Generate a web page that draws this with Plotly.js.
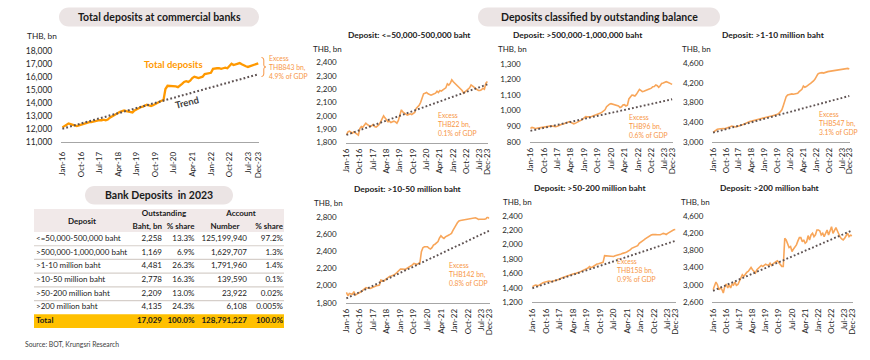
<!DOCTYPE html>
<html>
<head>
<meta charset="utf-8">
<script src="https://cdn.plot.ly/plotly-3.0.1.min.js"></script>
<style>
html,body{margin:0;padding:0;background:#ffffff;overflow:hidden;}
#chart{width:870px;height:360px;}
</style>
</head>
<body>
<div id="chart"></div>
<script>
// ================= DATA =================
const months = [];
for (let yr = 2016; yr <= 2023; yr++) {
  for (let m = 1; m <= 12; m++) months.push(yr + '-' + String(m).padStart(2, '0') + '-01');
}
const tickDates = ['2016-01-01','2016-10-01','2017-07-01','2018-04-01','2019-01-01','2019-10-01',
                   '2020-07-01','2021-04-01','2022-01-01','2022-10-01','2023-07-01','2023-12-01'];
const tickLabels = ['Jan-16','Oct-16','Jul-17','Apr-18','Jan-19','Oct-19',
                    'Jul-20','Apr-21','Jan-22','Oct-22','Jul-23','Dec-23'];

// Total deposits at commercial banks (THB bn), monthly Jan-16 .. Dec-23
const totalDeposits = [
  12100,12200,12300,12400,12350,12300,12250,12200,12250,12300,12400,12450,
  12450,12500,12500,12550,12600,12600,12650,12650,12700,12650,12700,12850,
  12950,13050,13150,13250,13300,13350,13400,13350,13300,13300,13250,13400,
  13500,13550,13650,13700,13750,13850,13800,13750,13800,13900,14000,14100,
  14150,14200,15050,15300,15300,15250,15300,15250,15200,15300,15450,15600,
  15650,15600,15700,15900,16000,15950,15900,15950,16000,16200,16250,16250,
  16300,16600,16650,16650,16650,16600,16650,16700,16650,16850,17000,16900,
  16950,17000,17050,16950,16850,16800,16750,16800,16900,16950,17000,17029
];
const trendTotal = [12000, 16186];

const depLe500k = [
  1857,1880,1885,1875,1870,1880,1870,1862,1855,1905,1920,1915,
  1930,1945,1935,1925,1920,1925,1935,1920,1915,1925,1935,1955,
  1975,2000,1985,1965,1955,1960,1950,1955,1960,1955,1945,1965,
  2015,2045,2030,2020,2010,2005,2010,2015,2010,2015,2025,2055,
  2065,2080,2100,2130,2165,2170,2175,2165,2160,2155,2160,2165,
  2170,2185,2175,2190,2185,2195,2205,2210,2240,2230,2245,2270,
  2255,2245,2230,2220,2215,2207,2190,2170,2180,2190,2195,2210,
  2232,2225,2215,2205,2195,2190,2190,2195,2207,2200,2245,2258
];
const trendLe500k = [1857, 2236];

const dep500kTo1m = [
  885,892,890,885,886,888,890,888,890,892,895,897,
  898,900,902,900,898,897,899,905,910,912,914,916,
  922,925,929,925,918,915,918,922,928,935,939,945,
  955,961,960,958,960,962,965,970,972,975,978,985,
  990,995,1005,1025,1035,1042,1045,1042,1042,1040,1036,1030,
  1020,1025,1036,1038,1030,1035,1075,1090,1100,1098,1094,1105,
  1125,1137,1130,1122,1125,1128,1130,1137,1140,1145,1154,1155,
  1165,1160,1150,1160,1175,1178,1180,1186,1182,1178,1172,1169
];
const trend500kTo1m = [870, 1073];

const dep1to10m = [
  3190,3215,3240,3252,3260,3265,3272,3268,3262,3270,3275,3290,
  3305,3320,3315,3306,3300,3310,3325,3335,3340,3350,3365,3380,
  3395,3408,3415,3420,3430,3442,3450,3455,3460,3470,3476,3485,
  3495,3505,3510,3515,3520,3525,3530,3540,3545,3560,3580,3613,
  3650,3740,3851,3920,3953,3965,3973,3975,3970,3975,3980,3990,
  4021,4040,4068,4137,4110,4125,4157,4170,4190,4210,4240,4272,
  4330,4380,4395,4405,4409,4400,4415,4420,4430,4435,4440,4450,
  4445,4450,4455,4460,4470,4477,4470,4475,4478,4485,4495,4481
];
const trend1to10m = [3185, 3934];

const dep10to50m = [
  1920,1881,1908,1900,1897,1928,1889,1900,1908,1915,1930,1947,
  1960,1974,1970,1965,1967,1975,1985,1990,1998,2000,2005,2063,
  2058,2052,2070,2085,2102,2108,2110,2114,2125,2140,2160,2175,
  2191,2190,2185,2188,2195,2205,2215,2230,2240,2257,2250,2246,
  2255,2269,2393,2440,2451,2455,2451,2435,2424,2440,2470,2480,
  2490,2510,2550,2579,2560,2548,2565,2579,2585,2595,2606,2640,
  2680,2703,2730,2750,2755,2758,2760,2762,2765,2768,2772,2775,
  2778,2782,2788,2780,2769,2770,2768,2765,2770,2775,2800,2778
];
const trend10to50m = [1850, 2636];

const dep50to200m = [
  1417,1425,1440,1435,1431,1445,1463,1470,1477,1485,1490,1495,
  1490,1486,1495,1500,1509,1515,1520,1532,1538,1545,1555,1560,
  1570,1580,1588,1595,1600,1601,1605,1615,1625,1635,1645,1655,
  1661,1675,1694,1680,1690,1705,1726,1730,1735,1740,1745,1754,
  1846,1845,1841,1838,1835,1832,1835,1846,1850,1858,1865,1870,
  1878,1880,1890,1901,1910,1925,1947,1955,1962,1970,1985,2017,
  2030,2050,2063,2080,2095,2110,2125,2132,2138,2141,2140,2135,
  2132,2135,2145,2155,2150,2140,2155,2169,2180,2190,2205,2209
];
const trend50to200m = [1395, 2051];

const depOver200m = [
  2891,2968,3067,3006,2891,2930,2900,2815,2968,3021,2930,3006,
  2930,3021,3000,3067,2990,3010,3098,3159,3236,3198,3251,3290,
  3313,3374,3405,3351,3313,3274,3351,3389,3420,3451,3428,3460,
  3481,3460,3451,3504,3451,3490,3527,3540,3558,3520,3466,3430,
  3428,4079,4041,3926,3864,3887,3772,3833,3887,3926,4018,4094,
  4094,3996,4041,3964,3996,4140,4041,4155,4194,4117,4160,4271,
  4271,4247,4155,4194,4117,4217,4271,4155,4250,4347,4194,4271,
  4324,4247,4171,4100,4063,4041,4079,4155,4194,4117,4150,4135
];
const trendOver200m = [2865, 4260];

const chartTitles = ['', 'Deposit: <=50,000-500,000 baht', 'Deposit: >500,000-1,000,000 baht',
  'Deposit: >1-10 million baht', 'Deposit: >10-50 million baht', 'Deposit: >50-200 million baht',
  'Deposit: >200 million baht'];
const excessNotes = ['Excess<br>THB843 bn,<br>4.9% of GDP', 'Excess<br>THB22 bn,<br>0.1% of GDP',
  'Excess<br>THB96 bn,<br>0.6% of GDP', 'Excess<br>THB547 bn,<br>3.1% of GDP',
  'Excess<br>THB142 bn,<br>0.8% of GDP', 'Excess<br>THB158 bn,<br>0.9% of GDP', ''];

// Table: Bank Deposits in 2023
const tableCategories = ['<=50,000-500,000 baht', '>500,000-1,000,000 baht', '>1-10 million baht',
  '>10-50 million baht', '>50-200 million baht', '>200 million baht'];
const outstandingBn = [2258, 1169, 4481, 2778, 2209, 4135];
const outstandingShare = ['13.3%', '6.9%', '26.3%', '16.3%', '13.0%', '24.3%'];
const accountNumber = [125199940, 1629707, 1791960, 139590, 23922, 6108];
const accountShare = ['97.2%', '1.3%', '1.4%', '0.1%', '0.02%', '0.005%'];
const totalRow = ['Total', 17029, '100.0%', 128791227, '100.0%'];
const headerTop = ['Outstanding', 'Account'];
const headerSub = ['Baht, bn', '% share', 'Number', '% share'];
const headerFirst = 'Deposit';

// ================= LAYOUT HELPERS =================
const FONT = 'Lato, "Open Sans", "DejaVu Sans", sans-serif';
const W = 870, H = 360;
const px = v => v / W;
const py = v => 1 - v / H;
const fmt = v => (typeof v === 'number') ? v.toLocaleString('en-US') : v;

const SMALL_LINE = '#F8A65A';
const TREND_COLOR = '#5E5252';
const TREND_DASH = '1.8px,2.2px';
const charts = [
  {series: totalDeposits, trend: trendTotal, xd: [61.3, 259.3], yd: [50.7, 141.7], yr: [11000, 18000], dtick: 1000,
   color: '#FF9900', width: 2.3, tw: 2.1, tick: 8.5, xs: 6, thb: [25, 35.7], title: null, ex: [267, 67.3]},
  {series: depLe500k, trend: trendLe500k, xd: [345.7, 488.1], yd: [62.5, 142.5], yr: [1800, 2400], dtick: 100,
   color: SMALL_LINE, width: 1.6, tw: 1.9, tick: 8, xs: 2, thb: [311, 49], title: [409, 35], ex: [436.5, 124]},
  {series: dep500kTo1m, trend: trend500kTo1m, xd: [529.7, 672.9], yd: [64, 141.7], yr: [800, 1300], dtick: 100,
   color: SMALL_LINE, width: 1.6, tw: 1.9, tick: 8, xs: 2, thb: [496, 49], title: [577.7, 35], ex: [626.5, 126]},
  {series: dep1to10m, trend: trend1to10m, xd: [712.3, 850], yd: [63.3, 141.7], yr: [3000, 4600], dtick: 400,
   color: SMALL_LINE, width: 1.6, tw: 1.9, tick: 8, xs: 2, thb: [680, 49], title: [773, 35], ex: [816.5, 122.7]},
  {series: dep10to50m, trend: trend10to50m, xd: [345.6, 489.7], yd: [216.7, 302.7], yr: [1800, 2800], dtick: 200,
   color: SMALL_LINE, width: 1.6, tw: 1.9, tick: 8, xs: 2, thb: [312, 202.7], title: [408, 189], ex: [446.5, 273.8]},
  {series: dep50to200m, trend: trend50to200m, xd: [531.6, 676], yd: [215.7, 302.3], yr: [1200, 2400], dtick: 200,
   color: SMALL_LINE, width: 1.6, tw: 1.9, tick: 8, xs: 2, thb: [500.7, 202], title: [590, 188], ex: [615, 269.6]},
  {series: depOver200m, trend: trendOver200m, xd: [712.3, 852.7], yd: [215.7, 302.3], yr: [2600, 4600], dtick: 400,
   color: SMALL_LINE, width: 1.6, tw: 1.9, tick: 8, xs: 2, thb: [679, 202], title: [770, 188], ex: null}
];

const traces = [];
const annotations = [];
const shapes = [];
const layout = {
  width: W, height: H, margin: {l: 0, r: 0, t: 0, b: 0},
  paper_bgcolor: '#ffffff', plot_bgcolor: 'rgba(0,0,0,0)',
  showlegend: false, font: {family: FONT, color: '#262626'},
  annotations: annotations, shapes: shapes
};

charts.forEach((c, i) => {
  const n = i === 0 ? '' : String(i + 1);
  layout['xaxis' + n] = {
    domain: [px(c.xd[0]), px(c.xd[1])], anchor: 'y' + n, type: 'date',
    range: ['2015-12-16', '2023-12-16'], tickmode: 'array', tickvals: tickDates, ticktext: tickLabels,
    tickangle: -90, tickfont: {family: FONT, size: 8, color: '#262626'},
    showgrid: false, zeroline: false, showline: true, linecolor: '#A6A6A6', linewidth: 1,
    ticks: '', ticklabelstandoff: c.xs, fixedrange: true
  };
  layout['yaxis' + n] = {
    domain: [py(c.yd[1]), py(c.yd[0])], anchor: 'x' + n, range: c.yr, dtick: c.dtick, tick0: c.yr[0],
    tickformat: ',', tickfont: {family: FONT, size: c.tick, color: '#262626'},
    showgrid: false, zeroline: false, showline: false, ticks: '', ticklabelstandoff: 8, fixedrange: true
  };
  traces.push({
    type: 'scatter', mode: 'lines', x: months, y: c.series, xaxis: 'x' + n, yaxis: 'y' + n,
    line: {color: c.color, width: c.width}, hoverinfo: 'skip'
  });
  traces.push({
    type: 'scatter', mode: 'lines', x: [months[0], months[months.length - 1]], y: c.trend,
    xaxis: 'x' + n, yaxis: 'y' + n, line: {color: TREND_COLOR, width: c.tw, dash: TREND_DASH}, hoverinfo: 'skip'
  });
  annotations.push({
    xref: 'paper', yref: 'paper', x: px(c.thb[0]), y: py(c.thb[1]), xanchor: 'left', yanchor: 'middle',
    text: 'THB, bn', showarrow: false, font: {family: FONT, size: i === 0 ? 8.3 : 8, color: '#262626'}
  });
  if (c.title) {
    annotations.push({
      xref: 'paper', yref: 'paper', x: px(c.title[0]), y: py(c.title[1]), xanchor: 'center', yanchor: 'middle',
      text: '<b>' + chartTitles[i] + '</b>', showarrow: false, font: {family: FONT, size: 8.4, color: '#1a1a1a'}
    });
  }
  if (c.ex && excessNotes[i]) {
    annotations.push({
      xref: 'paper', yref: 'paper', x: px(c.ex[0]), y: py(c.ex[1]), xanchor: 'left', yanchor: 'middle', align: 'left',
      text: excessNotes[i], showarrow: false, font: {family: FONT, size: 6.8, color: '#F79646'}
    });
  }
});

// Main chart labels
annotations.push({xref: 'paper', yref: 'paper', x: px(173), y: py(64), xanchor: 'center', yanchor: 'middle',
  text: '<b>Total deposits</b>', showarrow: false, font: {family: FONT, size: 9.5, color: '#FF9900'}});
annotations.push({xref: 'paper', yref: 'paper', x: px(186.5), y: py(102.5), xanchor: 'center', yanchor: 'middle',
  text: '<b>Trend</b>', textangle: -14, showarrow: false, font: {family: FONT, size: 9.5, color: '#404040'}});
// bracket for excess
function P(x, y) { return px(x).toFixed(5) + ',' + py(y).toFixed(5); }
shapes.push({type: 'path', xref: 'paper', yref: 'paper', line: {color: '#F79646', width: 1},
  path: 'M' + P(261.5, 57.5) + ' Q' + P(263.8, 57.5) + ' ' + P(263.8, 60) + ' L' + P(263.8, 65) +
        ' Q' + P(263.8, 67) + ' ' + P(265.8, 67) + ' Q' + P(263.8, 67) + ' ' + P(263.8, 69) +
        ' L' + P(263.8, 74) + ' Q' + P(263.8, 76.5) + ' ' + P(261.5, 76.5)});

// Title pills
function pill(x0, x1, y0, y1, color) {
  const r = (y1 - y0) / 2, k = 0.5523 * r, ym = (y0 + y1) / 2;
  const d = 'M' + P(x0 + r, y0) + ' L' + P(x1 - r, y0) +
    ' C' + P(x1 - r + k, y0) + ' ' + P(x1, ym - k) + ' ' + P(x1, ym) +
    ' C' + P(x1, ym + k) + ' ' + P(x1 - r + k, y1) + ' ' + P(x1 - r, y1) +
    ' L' + P(x0 + r, y1) +
    ' C' + P(x0 + r - k, y1) + ' ' + P(x0, ym + k) + ' ' + P(x0, ym) +
    ' C' + P(x0, ym - k) + ' ' + P(x0 + r - k, y0) + ' ' + P(x0 + r, y0) + ' Z';
  shapes.push({type: 'path', xref: 'paper', yref: 'paper', path: d, fillcolor: color, line: {width: 0}, layer: 'below'});
}
const PILL = '#EBE4E4';
pill(59, 259, 7.5, 26.5, PILL);
pill(478, 720, 7.5, 26.5, PILL);
pill(85, 233, 186, 204.5, PILL);
const pillTitles = ['Total deposits at commercial banks', 'Deposits classified by outstanding balance', 'Bank Deposits  in 2023'];
[[159, 17], [599, 17], [159, 195.3]].forEach((p, i) => {
  annotations.push({xref: 'paper', yref: 'paper', x: px(p[0]), y: py(p[1]), xanchor: 'center', yanchor: 'middle',
    text: '<b>' + pillTitles[i].replace(/  /g, '&nbsp; ') + '</b>', showarrow: false,
    font: {family: FONT, size: 10.5, color: '#1a1a1a'}});
});

// Source
annotations.push({xref: 'paper', yref: 'paper', x: px(22.5), y: py(344), xanchor: 'left', yanchor: 'middle',
  text: 'Source: BOT, Krungsri Research', showarrow: false, font: {family: FONT, size: 6.8, color: '#404040'}});

// ================= TABLE (on its own hidden axes) =================
const TOP = -2.18, BOT = 6.5;
layout.xaxis8 = {domain: [px(34), px(284)], range: [34, 284], visible: false, fixedrange: true, anchor: 'y8'};
layout.yaxis8 = {domain: [py(328), py(209)], range: [BOT, TOP], visible: false, fixedrange: true, anchor: 'x8'};

// header fill, total fill, separators
shapes.push({type: 'rect', xref: 'x8', yref: 'y8', x0: 34, x1: 284, y0: TOP, y1: -0.5,
  fillcolor: '#F1E9E9', line: {width: 0}, layer: 'below'});
shapes.push({type: 'rect', xref: 'x8', yref: 'y8', x0: 34, x1: 284, y0: 5.5, y1: 6.5,
  fillcolor: '#FFC000', line: {width: 0}, layer: 'below'});
for (let r = 0; r < tableCategories.length - 1; r++) {
  shapes.push({type: 'line', xref: 'x8', yref: 'y8', x0: 34, x1: 284, y0: r + 0.5, y1: r + 0.5,
    line: {color: '#D6CFCA', width: 1.2}, layer: 'below'});
}

const colX = [36, 162, 194.5, 247, 283];
const colPos = ['middle right', 'middle left', 'middle left', 'middle left', 'middle left'];
const cx = [], cy = [], ct = [], cp = [];
tableCategories.forEach((cat, r) => {
  const row = [cat, outstandingBn[r], outstandingShare[r], accountNumber[r], accountShare[r]];
  row.forEach((v, k) => { cx.push(colX[k]); cy.push(r); ct.push(fmt(v)); cp.push(colPos[k]); });
});
totalRow.forEach((v, k) => {
  cx.push(colX[k]); cy.push(tableCategories.length); ct.push('<b>' + fmt(v) + '</b>'); cp.push(colPos[k]);
});
traces.push({type: 'scatter', mode: 'text', x: cx, y: cy, text: ct, textposition: cp,
  xaxis: 'x8', yaxis: 'y8', textfont: {family: FONT, size: 8, color: '#1a1a1a'}, hoverinfo: 'skip'});

// header texts
const hx = [82, 164, 241, 162, 194.5, 225, 283];
const hy = [-1.25, -1.79, -1.79, -0.87, -0.87, -0.87, -0.87];
const hp = ['middle center', 'middle center', 'middle center', 'middle left', 'middle left', 'middle center', 'middle left'];
const ht = [headerFirst].concat(headerTop, headerSub).map(s => '<b>' + s + '</b>');
traces.push({type: 'scatter', mode: 'text', x: hx, y: hy, text: ht, textposition: hp,
  xaxis: 'x8', yaxis: 'y8', textfont: {family: FONT, size: 8, color: '#1a1a1a'}, hoverinfo: 'skip'});

Plotly.newPlot('chart', traces, layout, {displayModeBar: false, staticPlot: true});
</script>
</body>
</html>
